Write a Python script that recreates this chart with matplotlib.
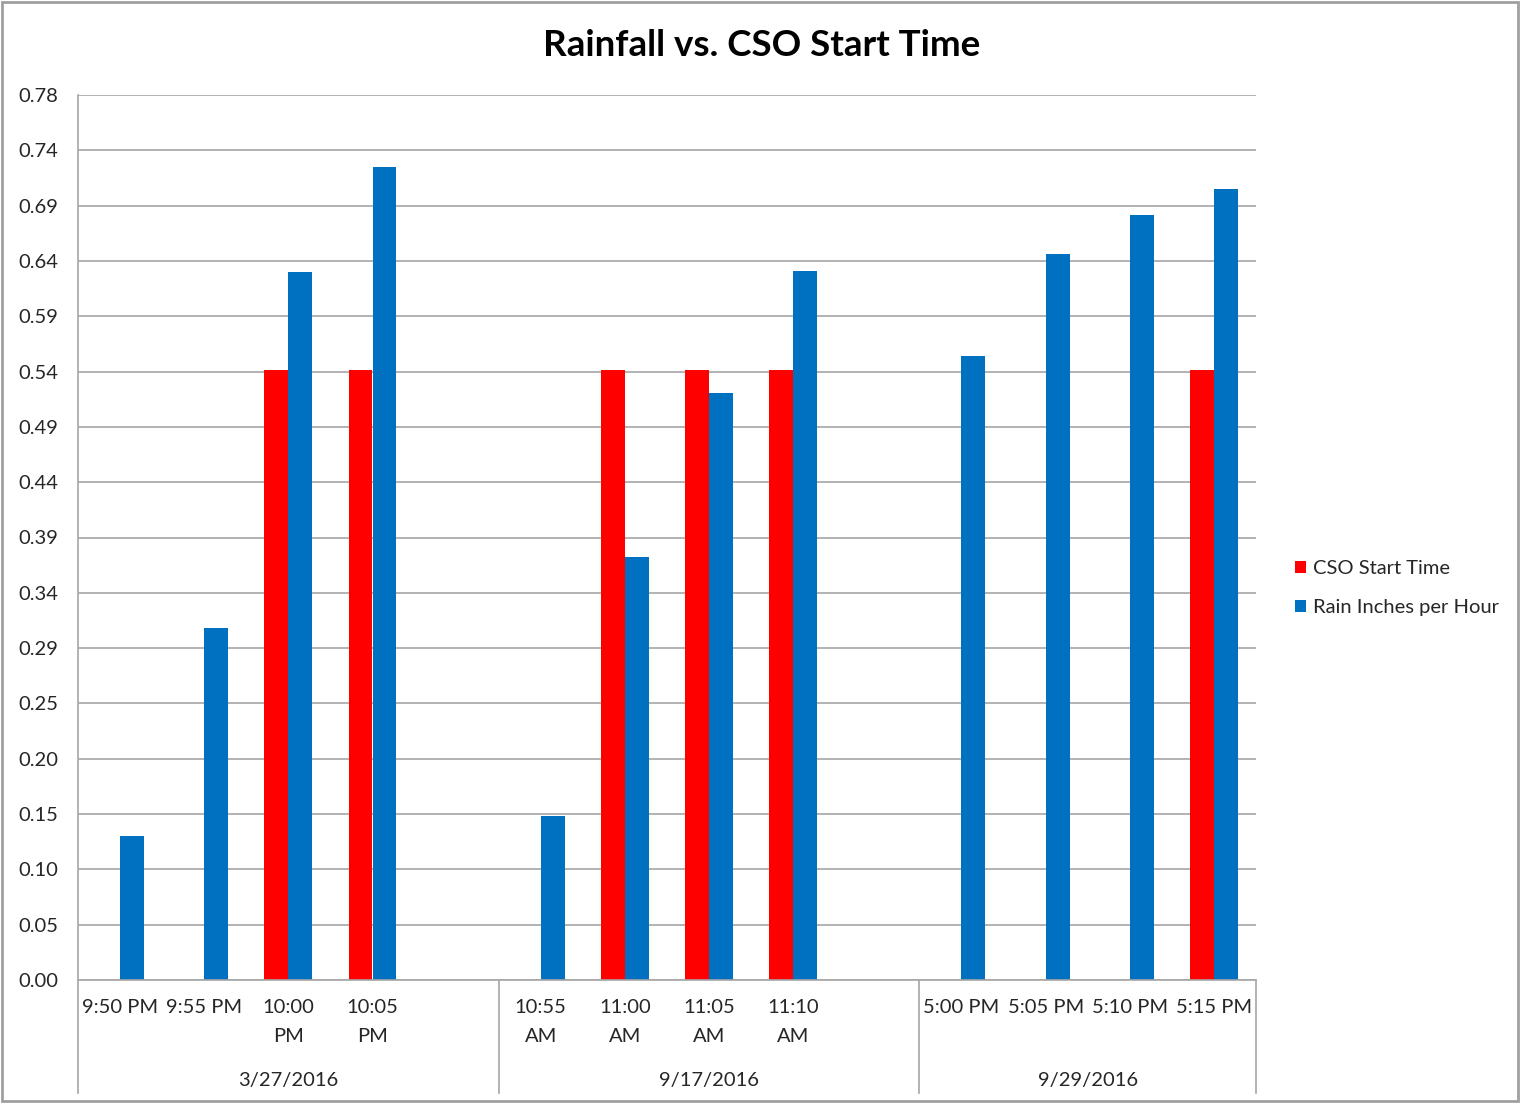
import matplotlib.pyplot as plt
import numpy as np
from matplotlib.patches import Rectangle
import matplotlib.transforms as mtransforms

plt.rcParams['font.family'] = ['Lato', 'DejaVu Sans']

# categories (blank slots are empty categories in the source sheet)
times = ['9:50 PM', '9:55 PM', '10:00 PM', '10:05 PM', '',
         '10:55 AM', '11:00 AM', '11:05 AM', '11:10 AM', '',
         '5:00 PM', '5:05 PM', '5:10 PM', '5:15 PM']
dates = ['3/27/2016', '9/17/2016', '9/29/2016']
group_sizes = [5, 5, 4]

nan = np.nan
cso_start = [nan, nan, 0.54, 0.54, nan,
             nan, 0.54, 0.54, 0.54, nan,
             nan, nan, nan, 0.54]
rain = [0.128, 0.312, 0.627, 0.72, nan,
        0.145, 0.375, 0.52, 0.628, nan,
        0.553, 0.643, 0.678, 0.701]

y_ticks = [i * 0.049 for i in range(17)]
y_labels = ['0.00', '0.05', '0.10', '0.15', '0.20', '0.25', '0.29', '0.34', '0.39',
            '0.44', '0.49', '0.54', '0.59', '0.64', '0.69', '0.74', '0.78']

RED = '#FF0000'
BLUE = '#0070C0'
GRID = '#A6A6A6'
TXT = '#262626'
FS = 14.5

fig = plt.figure(figsize=(15.21, 11.04), dpi=100)
ax = fig.add_axes([78 / 1521, 1 - 980 / 1104, (1256 - 78) / 1521, (980 - 95) / 1104])

x = np.arange(len(times))
w = 0.285
ax.bar(x - w / 2, cso_start, width=w, color=RED, label='CSO Start Time')
ax.bar(x + w / 2, rain, width=w, color=BLUE, label='Rain Inches per Hour')

ax.set_xlim(-0.5, len(times) - 0.5)
ax.set_ylim(0, y_ticks[-1])
ax.set_yticks(y_ticks)
ax.set_yticklabels(y_labels, fontsize=FS, color=TXT)
ax.tick_params(axis='y', length=0, pad=14)
ax.set_xticks([])
ax.set_axisbelow(True)
ax.grid(axis='y', color=GRID, linewidth=1.2)
for s in ['top', 'right']:
    ax.spines[s].set_visible(False)
ax.spines['left'].set_color(GRID)
ax.spines['bottom'].set_color(GRID)
ax.spines['left'].set_linewidth(1.2)
ax.spines['bottom'].set_linewidth(1.2)

# two-level category axis
trans = mtransforms.blended_transform_factory(ax.transData, ax.transAxes)
for xi, lbl in zip(x, times):
    shown = lbl.replace(' ', '\n') if len(lbl) > 7 else lbl
    ax.text(xi, -0.0215, shown, transform=trans, ha='center', va='top',
            fontsize=FS, color=TXT, linespacing=1.85)

start = 0
bounds = [-0.5]
for d, n in zip(dates, group_sizes):
    ax.text(start - 0.5 + n / 2, -0.1135, d, transform=trans, ha='center',
            va='center', fontsize=FS, color=TXT)
    start += n
    bounds.append(start - 0.5)
for b in bounds:
    ax.plot([b, b], [0, -0.128], transform=trans, color=GRID, lw=1.2,
            clip_on=False)

fig.text(762 / 1521, 1 - 46 / 1104, 'Rainfall vs. CSO Start Time', ha='center',
         va='center', fontsize=26.5, fontweight='bold', color='black')

ax.legend(loc='center left', bbox_to_anchor=(1277 / 1521, 1 - 588 / 1104),
          bbox_transform=fig.transFigure, frameon=False, fontsize=FS,
          handlelength=0.55, handleheight=0.55, handletextpad=0.35,
          labelspacing=1.1, labelcolor=TXT)

fig.patches.append(Rectangle((0.001, 0.003), 0.997, 0.995, transform=fig.transFigure,
                             fill=False, edgecolor='#A0A0A0', linewidth=2))

fig.savefig('out.png', dpi=100)
